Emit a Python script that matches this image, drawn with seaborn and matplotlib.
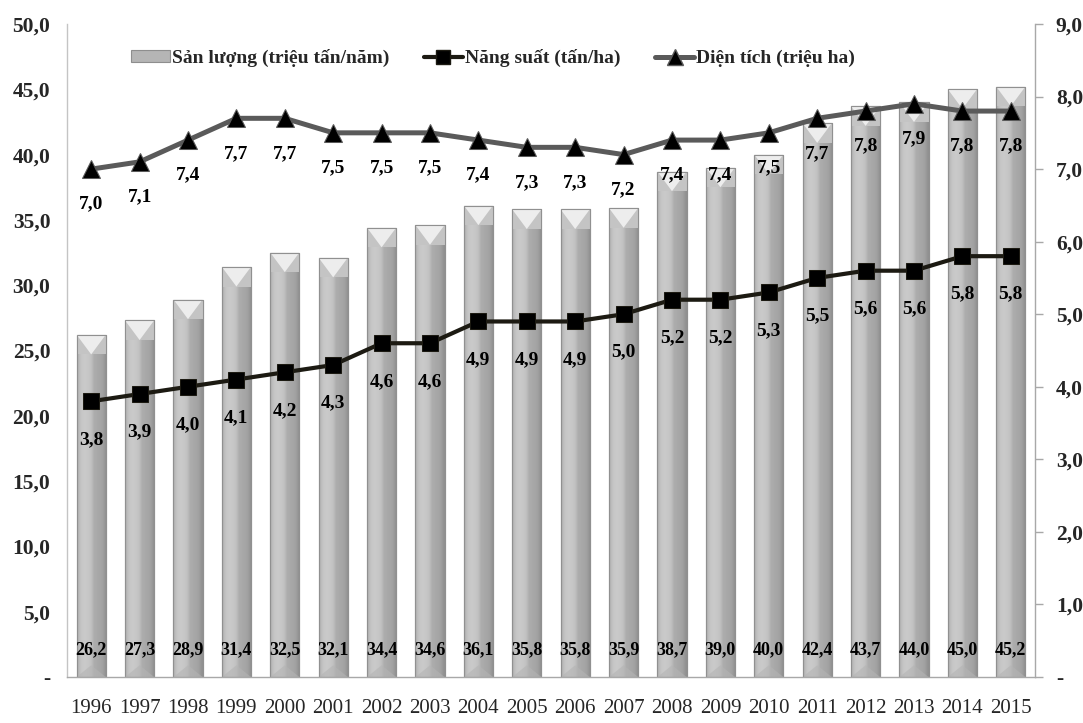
import numpy as np
import pandas as pd
import matplotlib
matplotlib.use("Agg")
import matplotlib.pyplot as plt
from matplotlib.patches import Polygon, Patch
from matplotlib.lines import Line2D
from matplotlib.ticker import FixedLocator, FuncFormatter
import seaborn as sns

# ---- data -------------------------------------------------------------
years = [str(y) for y in range(1996, 2016)]
san_luong = [26.2, 27.3, 28.9, 31.4, 32.5, 32.1, 34.4, 34.6, 36.1, 35.8,
             35.8, 35.9, 38.7, 39.0, 40.0, 42.4, 43.7, 44.0, 45.0, 45.2]
nang_suat = [3.8, 3.9, 4.0, 4.1, 4.2, 4.3, 4.6, 4.6, 4.9, 4.9,
             4.9, 5.0, 5.2, 5.2, 5.3, 5.5, 5.6, 5.6, 5.8, 5.8]
dien_tich = [7.0, 7.1, 7.4, 7.7, 7.7, 7.5, 7.5, 7.5, 7.4, 7.3,
             7.3, 7.2, 7.4, 7.4, 7.5, 7.7, 7.8, 7.9, 7.8, 7.8]
left_ticks = [0, 5, 10, 15, 20, 25, 30, 35, 40, 45, 50]
right_ticks = [0, 1, 2, 3, 4, 5, 6, 7, 8, 9]

lbl_bar = "Sản lượng (triệu tấn/năm)"
lbl_ns = "Năng suất (tấn/ha)"
lbl_dt = "Diện tích (triệu ha)"

df = pd.DataFrame({"year": years, "san_luong": san_luong,
                   "nang_suat": nang_suat, "dien_tich": dien_tich,
                   "pos": np.arange(len(years))})

# ---- style ------------------------------------------------------------
sns.set_theme(style="white")
plt.rcParams["font.family"] = ["Liberation Serif", "DejaVu Serif"]
plt.rcParams["font.weight"] = "bold"


def vn_fmt(v, _pos=None):
    if abs(v) < 1e-9:
        return "-"
    return f"{v:.1f}".replace(".", ",")


fig = plt.figure(figsize=(10.83, 7.23), dpi=100)
ax = fig.add_axes([67 / 1083, 46 / 723, 968 / 1083, 653 / 723])

# ---- bars -------------------------------------------------------------
sns.barplot(data=df, x="year", y="san_luong", ax=ax, color="#a9a9a9",
            width=0.6, saturation=1, edgecolor="#8e8e8e", linewidth=0.8,
            zorder=2)

# cylinder-like shading inside every bar, plus a bevelled cap
shade = np.array([0.70, 0.75, 0.78, 0.79, 0.79, 0.78, 0.77, 0.74,
                  0.68, 0.67, 0.66, 0.65, 0.64, 0.61, 0.57])
grad = np.dstack([shade, shade, shade])
cap_h = 1.5
for patch in list(ax.patches):
    x0, w, h = patch.get_x(), patch.get_width(), patch.get_height()
    im = ax.imshow(grad, extent=[x0, x0 + w, 0, h], aspect="auto",
                   interpolation="bilinear", zorder=2.1)
    im.set_clip_path(patch)
    xc = x0 + w / 2
    ax.add_patch(Polygon([[x0, h], [x0 + w, h], [x0 + w, h - cap_h],
                          [x0, h - cap_h]], closed=True,
                         facecolor="#c4c4c4", edgecolor="none", zorder=2.2))
    ax.add_patch(Polygon([[x0, h], [x0 + w, h], [xc, h - cap_h]],
                         closed=True, facecolor="#ededed",
                         edgecolor="none", zorder=2.3))
    ax.add_patch(Polygon([[x0, h], [x0 + w, h], [x0 + w, 0], [x0, 0]],
                         closed=True, facecolor="none",
                         edgecolor="#909090", linewidth=0.8, zorder=2.4))
    ax.add_patch(Polygon([[x0, 0], [xc, 0.9], [x0 + w, 0]], closed=True,
                         facecolor="#b4b4b4", edgecolor="none", alpha=0.6,
                         zorder=2.2))

for i, v in enumerate(san_luong):
    ax.annotate(vn_fmt(v), xy=(i, 0), xytext=(0, 27),
                textcoords="offset pixels", ha="center", va="center",
                fontsize=13, fontweight="bold", color="black", zorder=3)

ax.set_xlim(-0.5, len(years) - 0.5)
ax.set_ylim(0, 50)
ax.yaxis.set_major_locator(FixedLocator(left_ticks))
ax.yaxis.set_major_formatter(FuncFormatter(vn_fmt))
ax.set_xlabel("")
ax.set_ylabel("")
ax.tick_params(axis="y", length=0, pad=12, labelsize=15.5)
ax.tick_params(axis="x", length=0, pad=16, labelsize=15)
for t in ax.get_xticklabels():
    t.set_fontweight("normal")
for t in ax.get_yticklabels():
    t.set_fontweight("bold")
ax.grid(False)
ax.spines["top"].set_visible(False)
ax.spines["right"].set_visible(False)
ax.spines["left"].set_color("#c4c4c4")
ax.spines["bottom"].set_color("#a8a8a8")
ax.spines["left"].set_linewidth(1.0)
ax.spines["bottom"].set_linewidth(1.0)

# ---- lines on the secondary axis -------------------------------------
ax2 = ax.twinx()
sns.lineplot(data=df, x="pos", y="nang_suat", ax=ax2, color="#1c1a12",
             linewidth=3.0, marker="s", markersize=11,
             markerfacecolor="black", markeredgecolor="#1c1a12", zorder=4)
sns.lineplot(data=df, x="pos", y="dien_tich", ax=ax2, color="#5a5a5a",
             linewidth=3.6, marker="^", markersize=13,
             markerfacecolor="black", markeredgecolor="#5a5a5a", zorder=4)

for i, v in enumerate(nang_suat):
    ax2.annotate(vn_fmt(v), xy=(i, v), xytext=(0, -38),
                 textcoords="offset pixels", ha="center", va="center",
                 fontsize=14, fontweight="bold", color="black")
for i, v in enumerate(dien_tich):
    ax2.annotate(vn_fmt(v), xy=(i, v), xytext=(0, -35),
                 textcoords="offset pixels", ha="center", va="center",
                 fontsize=14, fontweight="bold", color="black")

ax2.set_xlim(-0.5, len(years) - 0.5)
ax2.set_ylim(0, 9)
ax2.yaxis.set_major_locator(FixedLocator(right_ticks))
ax2.yaxis.set_major_formatter(FuncFormatter(vn_fmt))
ax2.set_xlabel("")
ax2.set_ylabel("")
ax2.grid(False)
ax2.tick_params(axis="y", length=6, width=1, color="#a8a8a8", pad=9,
                labelsize=15.5)
for t in ax2.get_yticklabels():
    t.set_fontweight("bold")
for s in ["top", "left", "bottom"]:
    ax2.spines[s].set_visible(False)
ax2.spines["right"].set_color("#a8a8a8")
ax2.spines["right"].set_linewidth(1.0)

# ---- legend -----------------------------------------------------------
handles = [
    Patch(facecolor="#b5b5b5", edgecolor="#8e8e8e", linewidth=0.8),
    Line2D([0], [0], color="#1c1a12", linewidth=3.0, marker="s",
           markersize=10, markerfacecolor="black"),
    Line2D([0], [0], color="#5a5a5a", linewidth=3.6, marker="^",
           markersize=11, markerfacecolor="black",
           markeredgecolor="#5a5a5a"),
]
leg = ax2.legend(handles, [lbl_bar, lbl_ns, lbl_dt], loc="center",
                 bbox_to_anchor=(0.44, 0.948), ncol=3, frameon=False,
                 fontsize=14, handlelength=2.0, handletextpad=0.1,
                 columnspacing=1.8, handleheight=0.5)
for t in leg.get_texts():
    t.set_fontweight("bold")

fig.savefig("out.png", dpi=100)
